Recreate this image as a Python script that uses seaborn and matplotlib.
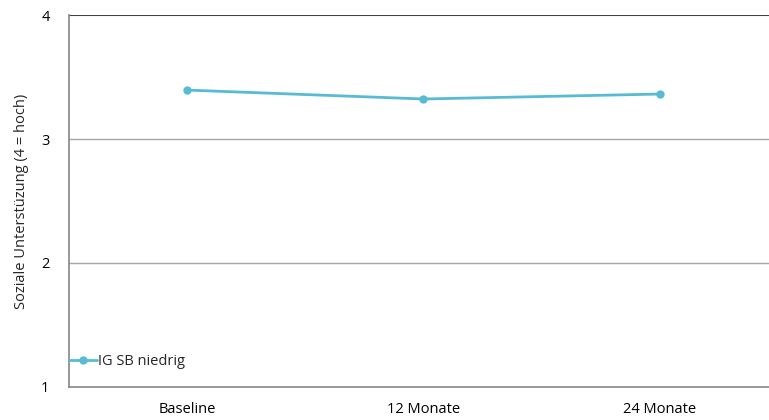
import matplotlib
matplotlib.use('Agg')
import matplotlib.pyplot as plt
import seaborn as sns
import pandas as pd

# Data
zeitpunkte = ['Baseline', '12 Monate', '24 Monate']
ig_sb_niedrig = [3.395, 3.323, 3.363]
y_ticks = [1, 2, 3, 4]

df = pd.DataFrame({'Zeitpunkt': zeitpunkte, 'Wert': ig_sb_niedrig,
                   'Gruppe': 'IG SB niedrig'})

sns.set_style('white')
plt.rcParams['font.family'] = ['Open Sans', 'DejaVu Sans']

fig = plt.figure(figsize=(7.69, 4.20), dpi=100)
ax = fig.add_axes([0.0897, 0.079, 0.922, 0.885])

sns.lineplot(data=df, x='Zeitpunkt', y='Wert', hue='Gruppe', marker='o',
             palette=['#57BCD3'], linewidth=2, markersize=6,
             markeredgewidth=0, ax=ax, sort=False)

ax.set_xlim(-0.5, 2.5)
ax.set_ylim(1, 4)
ax.set_yticks(y_ticks)
for y in [2, 3]:
    ax.axhline(y, color='#a6a6a6', linewidth=1, zorder=0)
ax.axhline(4, color='#404040', linewidth=1.5, zorder=0)

ax.spines['right'].set_visible(False)
ax.spines['top'].set_visible(False)
ax.spines['left'].set_color('#868686')
ax.spines['bottom'].set_color('#868686')
ax.spines['left'].set_linewidth(1.2)
ax.spines['bottom'].set_linewidth(1.2)

ax.tick_params(axis='both', length=0, labelsize=10.5, colors='black')
ax.tick_params(axis='y', pad=14)
ax.tick_params(axis='x', pad=11)
ax.set_xlabel('')
ax.set_ylabel('Soziale Unterstüzung (4 = hoch)', fontsize=10.5, labelpad=9)

ax.legend(loc='center left', bbox_to_anchor=(0.0, 0.067), frameon=False,
          fontsize=10.5, handlelength=1.9, handletextpad=0.1,
          borderaxespad=0, borderpad=0)

fig.savefig('out.png', dpi=100)
